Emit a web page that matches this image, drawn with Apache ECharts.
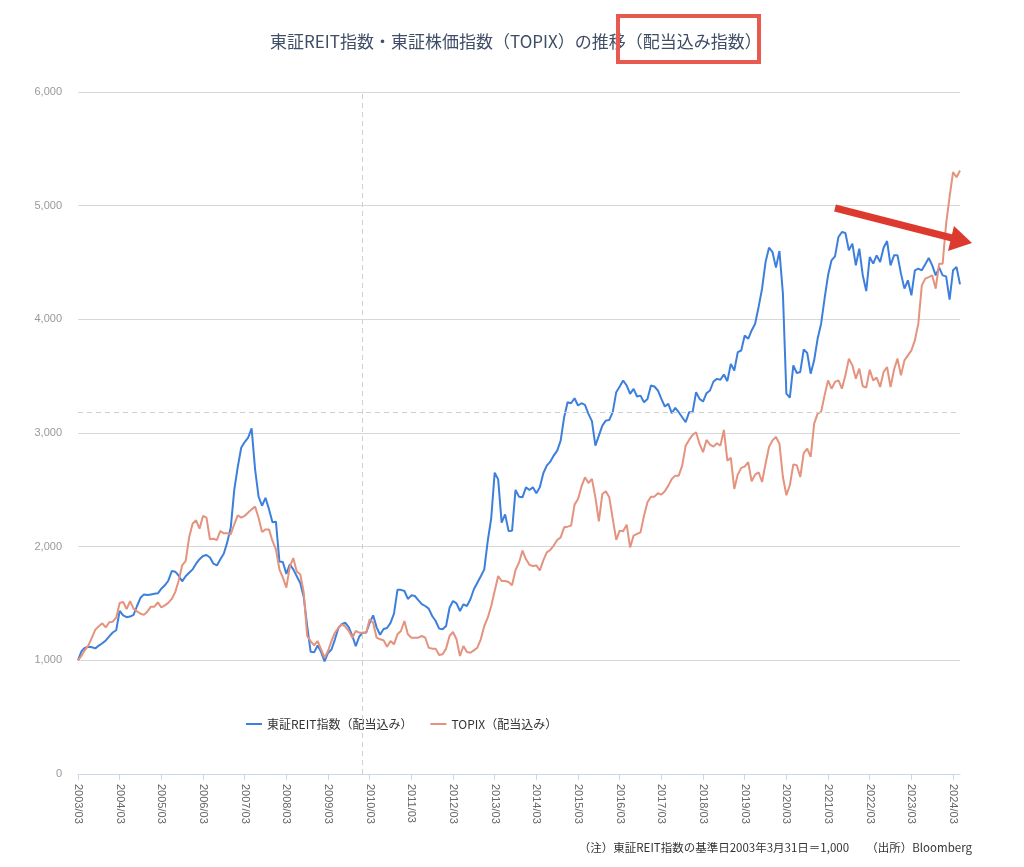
<!DOCTYPE html>
<html><head><meta charset="utf-8">
<script src="https://cdn.jsdelivr.net/npm/echarts@6/dist/echarts.min.js"></script>
<style>html,body{margin:0;padding:0;background:#fff}#c{width:1024px;height:867px}</style>
</head><body><div id="c"></div>
<script>
// ---- data ----
const startYear = 2003, startMonth = 3, monthCount = 255; // 2003/03 .. 2024/05
const categories = [];
for (let k = 0; k < monthCount; k++) {
  const m = startMonth - 1 + k;
  const y = startYear + Math.floor(m / 12);
  const mm = (m % 12) + 1;
  categories.push(y + '/' + (mm < 10 ? '0' + mm : mm));
}
const seriesNames = ['東証REIT指数（配当込み）', 'TOPIX（配当込み）'];
const reitValues = [
 1000,1080,1110,1120,1115,1105,1130,1150,1175,1210,1245,1265,
 1435,1395,1380,1385,1400,1478,1550,1580,1575,1580,1585,1590,
 1630,1660,1700,1785,1780,1745,1695,1740,1770,1800,1850,1890,
 1918,1927,1905,1850,1835,1890,1940,2040,2170,2500,2700,2870,
 2920,2960,3040,2680,2440,2360,2430,2330,2215,2220,1870,1865,
 1760,1845,1800,1740,1680,1560,1300,1075,1070,1130,1075,990,
 1065,1095,1185,1285,1320,1330,1290,1215,1125,1210,1243,1245,
 1330,1396,1290,1225,1275,1285,1330,1410,1620,1620,1610,1540,
 1572,1566,1530,1495,1478,1455,1390,1346,1279,1273,1302,1463,
 1522,1501,1434,1493,1478,1537,1625,1683,1740,1800,2050,2250,
 2651,2592,2211,2284,2138,2140,2499,2440,2434,2522,2499,2522,
 2470,2522,2646,2713,2748,2801,2845,2933,3139,3271,3262,3306,
 3242,3262,3247,3168,3104,2889,2977,3065,3109,3115,3183,3359,
 3409,3462,3418,3344,3388,3321,3329,3271,3300,3418,3409,3374,
 3300,3233,3256,3174,3221,3183,3139,3095,3183,3183,3359,3300,
 3277,3350,3374,3453,3476,3468,3515,3456,3608,3550,3711,3726,
 3858,3829,3902,3961,4108,4270,4504,4630,4592,4455,4601,4226,
 3346,3311,3595,3528,3537,3736,3704,3522,3639,3830,3962,4182,
 4387,4519,4554,4724,4768,4759,4607,4666,4475,4622,4387,4249,
 4548,4490,4563,4504,4630,4689,4475,4563,4563,4402,4270,4343,
 4211,4431,4446,4431,4484,4540,4475,4387,4455,4387,4378,4173,
 4431,4460,4308
];
const topixValues = [
 1000,1040,1090,1132,1200,1270,1300,1326,1290,1335,1340,1375,
 1505,1513,1450,1520,1455,1430,1410,1400,1430,1472,1472,1510,
 1465,1484,1505,1540,1600,1700,1836,1874,2080,2202,2232,2158,
 2270,2255,2065,2070,2059,2138,2117,2117,2109,2197,2276,2255,
 2270,2300,2328,2352,2255,2129,2152,2152,2050,1977,1801,1727,
 1640,1824,1900,1780,1757,1600,1214,1170,1132,1170,1097,1023,
 1082,1170,1243,1287,1317,1296,1258,1199,1258,1243,1243,1243,
 1361,1331,1199,1185,1176,1120,1170,1141,1229,1258,1346,1229,
 1199,1199,1199,1214,1199,1111,1103,1103,1047,1053,1103,1214,
 1249,1185,1038,1126,1073,1067,1088,1111,1185,1302,1375,1478,
 1610,1742,1698,1698,1689,1660,1795,1859,1965,1891,1840,1830,
 1835,1790,1880,1950,1971,2010,2059,2082,2170,2176,2185,2370,
 2420,2530,2610,2560,2596,2434,2223,2464,2487,2434,2244,2059,
 2141,2135,2194,1994,2097,2112,2126,2273,2390,2440,2440,2470,
 2458,2487,2537,2596,2625,2625,2713,2889,2939,2983,3007,2904,
 2831,2939,2898,2880,2910,2889,3027,2757,2781,2508,2634,2693,
 2704,2743,2575,2634,2655,2569,2730,2877,2935,2965,2906,2613,
 2452,2540,2724,2716,2613,2824,2862,2789,3082,3170,3185,3331,
 3463,3390,3449,3463,3390,3507,3654,3595,3478,3566,3411,3399,
 3557,3463,3487,3405,3537,3581,3405,3557,3654,3507,3639,3683,
 3727,3815,3962,4299,4358,4372,4387,4270,4490,4490,4840,5077,
 5295,5250,5310
];
const yMin = 0, yMax = 6000, yStep = 1000;
const crosshairCategory = '2010/01';
const crosshairValue = 3180;
const titleText = '東証REIT指数・東証株価指数（TOPIX）の推移（配当込み指数）';
const noteText = '（注）東証REIT指数の基準日2003年3月31日＝1,000　　（出所）Bloomberg';

// ---- chart ----
const cjk = '"Noto Sans CJK JP", "Noto Sans", sans-serif';
const latin = '"Liberation Sans", Arial, sans-serif';
const chart = echarts.init(document.getElementById('c'), null, {renderer: 'canvas'});
chart.setOption({
  animation: false,
  backgroundColor: '#ffffff',
  title: {
    text: titleText, left: 265, top: 28,
    textStyle: {fontSize: 17, fontWeight: 'normal', color: '#3f4d66', fontFamily: cjk}
  },
  legend: {
    data: seriesNames, left: 241, top: 713,
    icon: 'rect', itemWidth: 16, itemHeight: 2, itemGap: 18,
    textStyle: {fontSize: 12, color: '#333', fontFamily: cjk}
  },
  grid: {left: 78, right: 64, top: 92, bottom: 93, containLabel: false},
  xAxis: {
    type: 'category', data: categories, boundaryGap: false,
    axisLine: {lineStyle: {color: '#ccd6eb', width: 1}},
    axisTick: {show: true, interval: 11, length: 6, lineStyle: {color: '#ccd6eb'}},
    axisLabel: {interval: 11, rotate: -90, margin: 10, color: '#666', fontSize: 11, fontFamily: latin},
    splitLine: {show: false}
  },
  yAxis: {
    type: 'value', min: yMin, max: yMax, interval: yStep,
    axisLine: {show: false}, axisTick: {show: false},
    axisLabel: {color: '#999', fontSize: 11, margin: 16, fontFamily: latin,
      formatter: v => v.toLocaleString('en-US')},
    splitLine: {lineStyle: {color: '#d8d8d8', width: 1}}
  },
  series: [
    {
      name: seriesNames[0], type: 'line', data: reitValues,
      showSymbol: false, symbol: 'none',
      lineStyle: {color: '#3d7fdc', width: 2}, itemStyle: {color: '#3d7fdc'},
      markLine: {
        silent: true, symbol: 'none', label: {show: false},
        lineStyle: {color: '#cfcfcf', type: [5, 4], width: 1},
        data: [{xAxis: crosshairCategory}, {yAxis: crosshairValue}]
      }
    },
    {
      name: seriesNames[1], type: 'line', data: topixValues,
      showSymbol: false, symbol: 'none',
      lineStyle: {color: '#e4937e', width: 2}, itemStyle: {color: '#e4937e'}
    }
  ],
  graphic: [
    {type: 'rect', shape: {x: 618, y: 16, width: 141, height: 46},
     style: {fill: 'none', stroke: '#e85a50', lineWidth: 4}, z: 100},
    {type: 'line', shape: {x1: 835, y1: 208, x2: 952, y2: 238},
     style: {stroke: '#dc3a2f', lineWidth: 7}, z: 100},
    {type: 'polygon', shape: {points: [[972, 243], [954, 226], [948, 251]]},
     style: {fill: '#dc3a2f'}, z: 100},
    {type: 'text', right: 52, top: 842,
     style: {text: noteText, fill: '#333', font: '11.5px ' + cjk, textAlign: 'right'}}
  ]
});
</script></body></html>
